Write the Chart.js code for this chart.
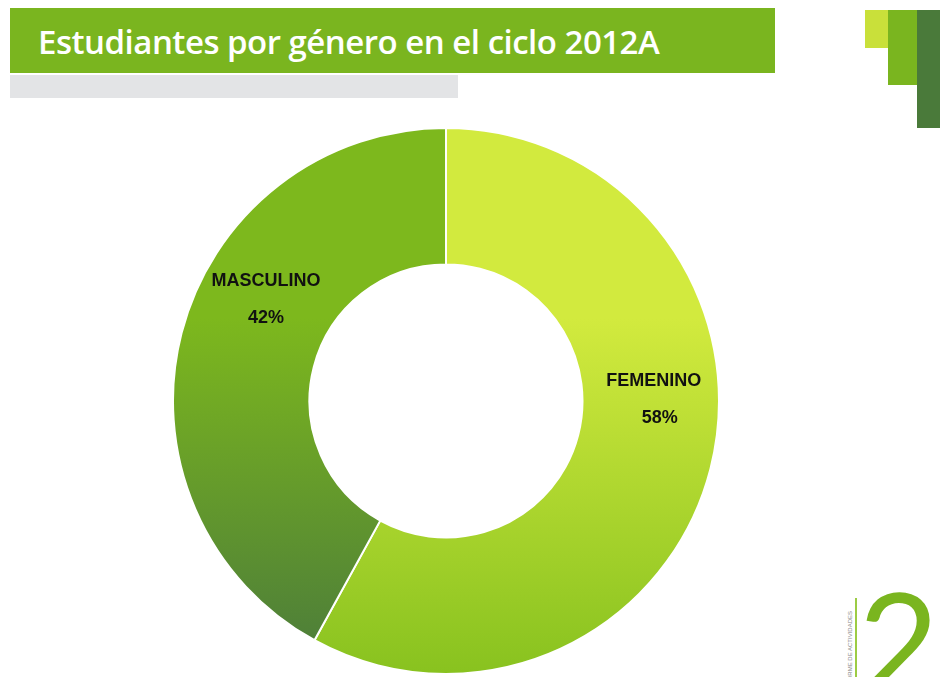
<!DOCTYPE html>
<html>
<head>
<meta charset="utf-8">
<script src="https://cdn.jsdelivr.net/npm/chart.js@4"></script>
<style>
  body { margin: 0; width: 940px; height: 677px; background: #fff; position: relative; overflow: hidden; font-family: "Open Sans", sans-serif; }
  .barra { position: absolute; left: 10px; top: 8px; width: 765px; height: 65px; background: #7ab51f; }
  .barra h1 { margin: 0; position: absolute; left: 28px; top: 11px; color: #fff; font-size: 33px; font-weight: 600; letter-spacing: -0.5px; white-space: nowrap; }
  .gris { position: absolute; left: 10px; top: 75px; width: 448px; height: 23px; background: #e3e4e6; }
  .c1 { position: absolute; left: 865px; top: 10px; width: 23px; height: 38px; background: #c9e03a; }
  .c2 { position: absolute; left: 888px; top: 10px; width: 29px; height: 75px; background: #7ab51f; }
  .c3 { position: absolute; left: 917px; top: 10px; width: 23px; height: 118px; background: #4a7a3a; }
  .dos { position: absolute; left: 858px; top: 570px; color: #7ab51f; font-family: "Lato", sans-serif; font-weight: 400; font-size: 140px; line-height: 1; }
  .vert { position: absolute; left: 795px; top: 632px; width: 110px; transform: rotate(-90deg); font-size: 6px; color: #888; font-family: "Liberation Sans", sans-serif; }
  .linea { position: absolute; left: 855px; top: 598px; width: 2px; height: 79px; background: #9ccc45; }
  #wrap { position: absolute; left: 172px; top: 127px; width: 548px; height: 548px; }
</style>
</head>
<body>
<div class="barra"><h1>Estudiantes por género en el ciclo 2012A</h1></div>
<div class="gris"></div>
<div class="c1"></div><div class="c2"></div><div class="c3"></div>
<div class="linea"></div>
<div class="vert">INFORME DE ACTIVIDADES</div>
<div class="dos">2</div>
<div id="wrap"><canvas id="myChart"></canvas></div>
<script>
const generos = ["FEMENINO", "MASCULINO"];
const porcentajes = [58, 42];
const coloresArriba = ["#d2ea3e", "#7db81d"];
const coloresAbajo = ["#88c21f", "#4a7a3b"];

const gradiente = (ctx) => {
  const chart = ctx.chart;
  const area = chart.chartArea;
  if (!area) return coloresAbajo[ctx.dataIndex];
  var g = chart.ctx.createLinearGradient(0, area.top, 0, area.bottom);
  g.addColorStop(0, coloresArriba[ctx.dataIndex]);
  g.addColorStop(0.35, coloresArriba[ctx.dataIndex]);
  g.addColorStop(1, coloresAbajo[ctx.dataIndex]);
  return g;
};

// etiquetas dentro del anillo, angulo desde arriba en sentido horario
const angulosEtiqueta = [89, 300];
const etiquetas = {
  id: 'etiquetas',
  afterDatasetsDraw(chart) {
    const ctx = chart.ctx;
    const meta = chart.getDatasetMeta(0);
    meta.data.forEach((arc, i) => {
      const r = (arc.innerRadius + arc.outerRadius) / 2 + 3;
      const a = angulosEtiqueta[i] * Math.PI / 180;
      const x = arc.x + r * Math.sin(a);
      const y = arc.y - r * Math.cos(a);
      ctx.save();
      ctx.fillStyle = '#111';
      ctx.font = 'bold 18px "Liberation Sans", Arial, sans-serif';
      ctx.textAlign = 'center';
      ctx.textBaseline = 'middle';
      ctx.fillText(generos[i], x, y - 16);
      ctx.fillText(porcentajes[i] + '%', x + (i == 0 ? 6 : 0), y + 21);
      ctx.restore();
    });
  }
};

const myChart = new Chart("myChart", {
  type: "doughnut",
  data: {
    labels: generos,
    datasets: [{
      data: porcentajes,
      backgroundColor: gradiente,
      borderColor: '#ffffff',
      borderWidth: 2
    }]
  },
  options: {
    responsive: true,
    maintainAspectRatio: false,
    animation: false,
    cutout: '50%',
    layout: { padding: 0 },
    plugins: {
      legend: { display: false },
      tooltip: { enabled: false }
    }
  },
  plugins: [etiquetas]
});
</script>
</body>
</html>
